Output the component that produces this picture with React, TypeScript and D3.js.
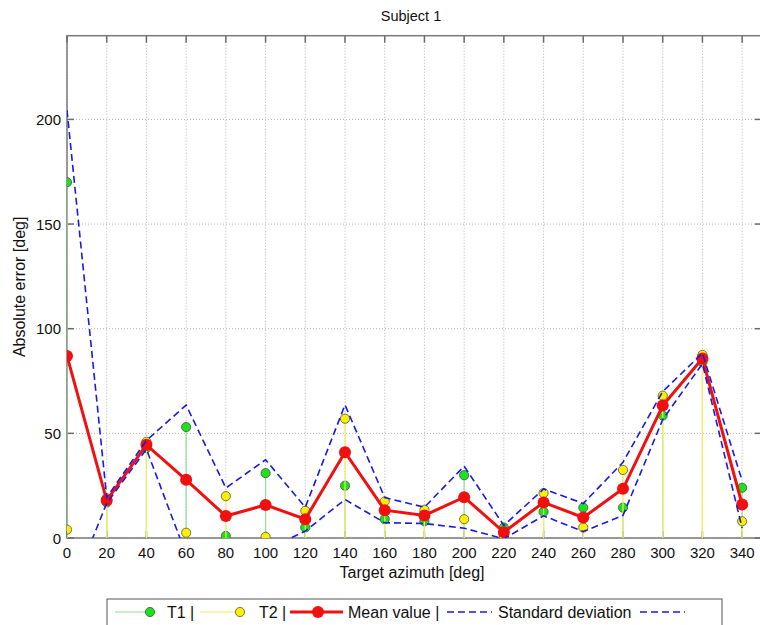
import React from "react";
import * as d3 from "d3";

const azimuths = [0, 20, 40, 60, 80, 100, 120, 140, 160, 180, 200, 220, 240, 260, 280, 300, 320, 340];
const t1Values = [170, 17, 43, 53, 1, 31, 5, 25, 9, 8, 30, 5, 12.5, 14.5, 14.5, 58.5, 84, 24];
const t2Values = [4, 19, 46, 2.5, 20, 0.5, 13, 57, 17.5, 13.5, 9, 0.5, 21.5, 5, 32.5, 68, 87.5, 8];
const meanValues = [87, 18, 44.5, 27.8, 10.5, 15.8, 9, 41, 13.3, 10.8, 19.5, 2.8, 17, 9.8, 23.5, 63.3, 85.8, 16];
const stdValues = [117.4, 1.4, 2.1, 35.7, 13.4, 21.6, 5.7, 22.6, 6, 3.9, 14.8, 3.2, 6.4, 6.7, 12.7, 6.7, 2.5, 11.3];
const xTicks = [0, 20, 40, 60, 80, 100, 120, 140, 160, 180, 200, 220, 240, 260, 280, 300, 320, 340];
const yTicks = [0, 50, 100, 150, 200];

const W = 760;
const H = 625;
const left = 67;
const right = 762;
const top = 35.7;
const bottom = 538;

const FONT = "Arial, 'Liberation Sans', sans-serif";

export default function App() {
  const x = d3.scaleLinear().domain([0, 350]).range([left, right]);
  const y = d3.scaleLinear().domain([0, 240]).range([bottom, top]);

  const upper = meanValues.map((m, i) => m + stdValues[i]);
  const lower = meanValues.map((m, i) => m - stdValues[i]);

  const line = d3
    .line<number>()
    .x((_, i) => x(azimuths[i]))
    .y((d) => y(d));

  const tickLen = 7;

  return (
    <svg
      width={W}
      height={H}
      style={{ position: "absolute", left: 0, top: 0, background: "#fff" }}
      fontFamily={FONT}
    >
      <defs>
        <clipPath id="plotClip">
          <rect x={left} y={top} width={right - left} height={bottom - top} />
        </clipPath>
      </defs>
      <rect x={0} y={0} width={W} height={H} fill="#fff" />

      {/* grid */}
      {xTicks.map((t) => (
        <line
          key={"gx" + t}
          x1={x(t)}
          x2={x(t)}
          y1={top}
          y2={bottom}
          stroke="#b4b4b4"
          strokeWidth={1}
          strokeDasharray="1,2"
        />
      ))}
      {yTicks.map((t) => (
        <line
          key={"gy" + t}
          x1={left}
          x2={right}
          y1={y(t)}
          y2={y(t)}
          stroke="#b4b4b4"
          strokeWidth={1}
          strokeDasharray="1,2"
        />
      ))}

      {/* axes box */}
      <rect
        x={left}
        y={top}
        width={right - left}
        height={bottom - top}
        fill="none"
        stroke="#7a7a7a"
        strokeWidth={1.5}
      />
      {xTicks.map((t) => (
        <g key={"tx" + t}>
          <line x1={x(t)} x2={x(t)} y1={top} y2={top + tickLen} stroke="#6a6a6a" strokeWidth={1.5} />
          <line x1={x(t)} x2={x(t)} y1={bottom} y2={bottom - tickLen} stroke="#6a6a6a" strokeWidth={1.5} />
          <text x={x(t)} y={558} textAnchor="middle" fontSize={15} fill="#111">
            {t}
          </text>
        </g>
      ))}
      {yTicks.map((t) => (
        <g key={"ty" + t}>
          <line x1={left} x2={left + tickLen} y1={y(t)} y2={y(t)} stroke="#6a6a6a" strokeWidth={1.5} />
          <line x1={right} x2={right - tickLen} y1={y(t)} y2={y(t)} stroke="#6a6a6a" strokeWidth={1.5} />
          <text x={left - 6} y={y(t) + 5.5} textAnchor="end" fontSize={15} fill="#111">
            {t}
          </text>
        </g>
      ))}

      <g clipPath="url(#plotClip)">
        {/* T1 stems and markers */}
        {t1Values.map((v, i) => (
          <line
            key={"s1" + i}
            x1={x(azimuths[i])}
            x2={x(azimuths[i])}
            y1={y(0)}
            y2={y(v)}
            stroke="#8ee08e"
            strokeWidth={1.2}
          />
        ))}
        {t1Values.map((v, i) => (
          <circle
            key={"m1" + i}
            cx={x(azimuths[i])}
            cy={y(v)}
            r={4.6}
            fill="#1ee01e"
            stroke="#3a5a3a"
            strokeWidth={0.8}
          />
        ))}
        {/* T2 stems and markers */}
        {t2Values.map((v, i) => (
          <line
            key={"s2" + i}
            x1={x(azimuths[i])}
            x2={x(azimuths[i])}
            y1={y(0)}
            y2={y(v)}
            stroke="#f2f05a"
            strokeWidth={1.2}
          />
        ))}
        {t2Values.map((v, i) => (
          <circle
            key={"m2" + i}
            cx={x(azimuths[i])}
            cy={y(v)}
            r={4.6}
            fill="#f8f000"
            stroke="#5a5a30"
            strokeWidth={0.8}
          />
        ))}
        {/* mean */}
        <path d={line(meanValues) || ""} fill="none" stroke="#f01010" strokeWidth={3} />
        {meanValues.map((v, i) => (
          <circle key={"mm" + i} cx={x(azimuths[i])} cy={y(v)} r={6} fill="#f01010" />
        ))}
        {/* std */}
        <path d={line(upper) || ""} fill="none" stroke="#1a1ae0" strokeWidth={1.6} strokeDasharray="7,4" />
        <path d={line(lower) || ""} fill="none" stroke="#1a1ae0" strokeWidth={1.6} strokeDasharray="7,4" />
      </g>

      {/* titles */}
      <text x={411} y={21} textAnchor="middle" fontSize={14.5} fill="#111">
        Subject 1
      </text>
      <text x={412} y={578} textAnchor="middle" fontSize={16} fill="#111">
        Target azimuth [deg]
      </text>
      <text
        transform={`translate(25, ${(top + bottom) / 2}) rotate(-90)`}
        textAnchor="middle"
        fontSize={16}
        fill="#111"
      >
        Absolute error [deg]
      </text>

      {/* legend */}
      <g>
        <rect x={107} y={599} width={615} height={40} fill="#fff" stroke="#555" strokeWidth={1} />
        <line x1={115} x2={150} y1={612} y2={612} stroke="#8ee08e" strokeWidth={1.2} />
        <circle cx={150} cy={612} r={4.6} fill="#1ee01e" stroke="#3a5a3a" strokeWidth={0.8} />
        <text x={167} y={618} fontSize={16} fill="#111">T1 |</text>
        <line x1={200} x2={240} y1={612} y2={612} stroke="#f2f05a" strokeWidth={1.2} />
        <circle cx={240} cy={612} r={4.6} fill="#f8f000" stroke="#5a5a30" strokeWidth={0.8} />
        <text x={259} y={618} fontSize={16} fill="#111">T2 |</text>
        <line x1={290} x2={343} y1={612} y2={612} stroke="#f01010" strokeWidth={3} />
        <circle cx={318} cy={612} r={6} fill="#f01010" />
        <text x={348} y={618} fontSize={16} fill="#111">Mean value |</text>
        <line x1={447} x2={492} y1={612} y2={612} stroke="#1a1ae0" strokeWidth={1.6} strokeDasharray="7,4" />
        <text x={498} y={618} fontSize={16} fill="#111">Standard deviation</text>
        <line x1={640} x2={685} y1={612} y2={612} stroke="#1a1ae0" strokeWidth={1.6} strokeDasharray="7,4" />
      </g>
    </svg>
  );
}
